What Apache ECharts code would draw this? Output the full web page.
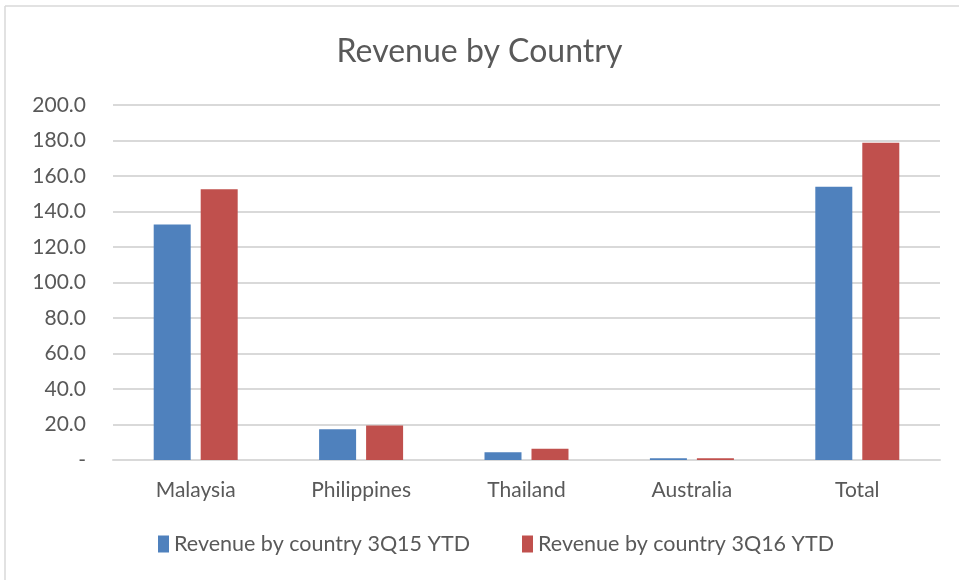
<!DOCTYPE html>
<html>
<head>
<meta charset="utf-8">
<script src="https://cdn.jsdelivr.net/npm/echarts@6/dist/echarts.min.js"></script>
<style>
  html, body { margin: 0; padding: 0; background: #fff; }
  #chart { width: 959px; height: 580px; }
</style>
</head>
<body>
<div id="chart"></div>
<script>
const countries = ['Malaysia', 'Philippines', 'Thailand', 'Australia', 'Total']
const rev3Q15 = [132.7, 17.3, 4.3, 1.0, 153.9]
const rev3Q16 = [152.5, 19.5, 6.4, 1.0, 178.8]
const seriesNames = ['Revenue by country 3Q15 YTD', 'Revenue by country 3Q16 YTD']

const font = 'Lato, "Liberation Sans", sans-serif'
const textColor = '#595959'

const myChart = echarts.init(document.getElementById('chart'))
myChart.setOption({
    animation: false,
    color: ['#4F81BD', '#C0504D'],
    textStyle: { fontFamily: font },
    title: {
        text: 'Revenue by Country',
        left: 'center',
        top: 31,
        textStyle: { fontFamily: font, fontSize: 32, fontWeight: 'normal', color: textColor }
    },
    legend: {
        bottom: 20,
        left: 153,
        itemWidth: 11,
        itemHeight: 17,
        itemGap: 52,
        icon: 'rect',
        textStyle: { fontFamily: font, fontSize: 21.5, color: textColor }
    },
    grid: { left: 113, right: 19, top: 105, bottom: 120, containLabel: false },
    xAxis: {
        type: 'category',
        data: countries,
        axisTick: { show: false },
        axisLine: { lineStyle: { color: '#D9D9D9', width: 2 } },
        axisLabel: { fontSize: 21, color: textColor, margin: 20 }
    },
    yAxis: {
        type: 'value',
        min: 0,
        max: 200,
        interval: 20,
        axisLine: { show: false },
        axisTick: { show: false },
        splitLine: { lineStyle: { color: '#D9D9D9', width: 2 } },
        axisLabel: {
            fontSize: 21,
            color: textColor,
            margin: 27,
            formatter: v => (v === 0 ? '-' : v.toFixed(1))
        }
    },
    series: [
        { name: seriesNames[0], type: 'bar', data: rev3Q15, barWidth: 37, barGap: '27%' },
        { name: seriesNames[1], type: 'bar', data: rev3Q16, barWidth: 37, barGap: '27%' }
    ],
    graphic: [
        { type: 'line', shape: { x1: 5, y1: 6, x2: 959, y2: 6 }, style: { stroke: '#D9D9D9', lineWidth: 1.5 } },
        { type: 'line', shape: { x1: 5, y1: 6, x2: 5, y2: 580 }, style: { stroke: '#D9D9D9', lineWidth: 1.5 } }
    ]
})
</script>
</body>
</html>
